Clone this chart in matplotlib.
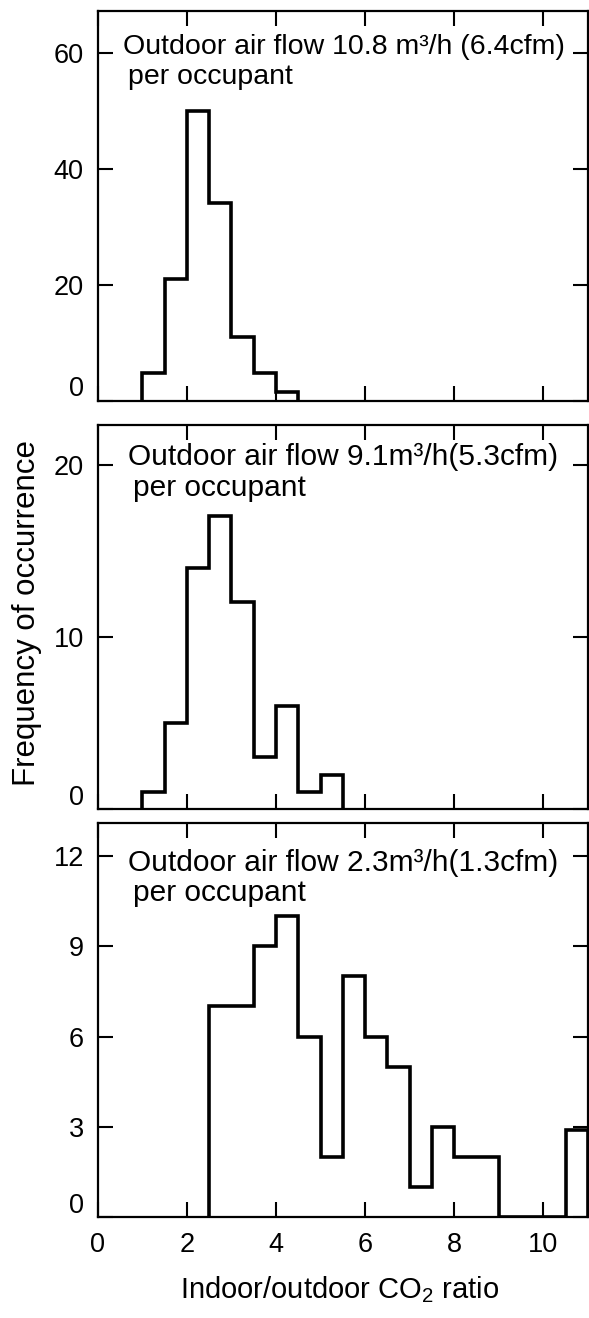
import numpy as np
import matplotlib
matplotlib.use('Agg')
import matplotlib.pyplot as plt

# bin edges (indoor/outdoor CO2 ratio) and frequencies for each ventilation rate
edges_10_8 = [1.0, 1.5, 2.0, 2.5, 3.0, 3.5, 4.0, 4.5]
freq_10_8 = [4.7, 21, 50, 34, 11, 4.7, 1.5]

edges_9_1 = [1.0, 1.5, 2.0, 2.5, 3.0, 3.5, 4.0, 4.5, 5.0, 5.5]
freq_9_1 = [1, 5, 14, 17, 12, 3, 6, 1, 2]

edges_2_3 = [2.5, 3.0, 3.5, 4.0, 4.5, 5.0, 5.5, 6.0, 6.5, 7.0, 7.5, 8.0, 8.5,
             9.0, 9.5, 10.0, 10.5, 11.0]
freq_2_3 = [7, 7, 9, 10, 6, 2, 8, 6, 5, 1, 3, 2, 2, 0, 0, 0, 2.9]

labels = ['Outdoor air flow 10.8 m³/h (6.4cfm)',
          'Outdoor air flow 9.1m³/h(5.3cfm)',
          'Outdoor air flow 2.3m³/h(1.3cfm)']
yticks = [[0, 20, 40, 60], [0, 10, 20], [0, 3, 6, 9, 12]]
ylims = [67.2, 22.3, 13.1]
xticks = [0, 2, 4, 6, 8, 10]

plt.rcParams['font.family'] = ['Liberation Sans', 'DejaVu Sans']
plt.rcParams['mathtext.fontset'] = 'custom'
plt.rcParams['mathtext.rm'] = 'Liberation Sans'

W, H = 589, 1318
fig = plt.figure(figsize=(W / 100, H / 100), dpi=100)

# panel frames in pixels: (top, bottom)
frames = [(11, 400.5), (425, 809), (823, 1217)]
# annotation baselines in pixels: (x, y line 1, y line 2)
notes = [(123, 54, 84), (128, 465, 496), (128, 871, 901)]
note_sizes = [20.5, 21.5, 21.5]
L, R = 97.7, 588

data = [(edges_10_8, freq_10_8), (edges_9_1, freq_9_1), (edges_2_3, freq_2_3)]

for i, ((top, bot), (e, f)) in enumerate(zip(frames, data)):
    ax = fig.add_axes([L / W, 1 - bot / H, (R - L) / W, (bot - top) / H])
    ax.stairs(f, e, baseline=0, color='black', linewidth=2.6)
    ax.set_xlim(0, 11)
    ax.set_ylim(0, ylims[i])
    ax.set_xticks(xticks)
    ax.set_yticks(yticks[i])
    ax.set_yticklabels([''] + [str(v) for v in yticks[i][1:]])
    # zero label sits a bit above the axis line
    ax.annotate('0', xy=(0, 0), xycoords=('axes fraction', 'data'),
                xytext=(-10, 8), textcoords='offset points',
                ha='right', va='center', fontsize=19.5)
    ax.tick_params(direction='in', length=11, width=1.5, top=True, right=True,
                   labelsize=19.5, pad=10)
    if i < 2:
        ax.tick_params(labelbottom=False)
    else:
        ax.tick_params(axis='x', pad=11)
    for s in ax.spines.values():
        s.set_linewidth(1.6)

    x0, y1, y2 = notes[i]
    fig.text(x0 / W, 1 - y1 / H, labels[i], fontsize=note_sizes[i],
             va='baseline', ha='left')
    fig.text((x0 + 5) / W, 1 - y2 / H, 'per occupant', fontsize=note_sizes[i],
             va='baseline', ha='left')

fig.text(27 / W, 1 - 613 / H, 'Frequency of occurrence', rotation=90,
         fontsize=22.5, ha='center', va='center')
fig.text(340 / W, 1 - 1290 / H, 'Indoor/outdoor CO$_2$ ratio',
         fontsize=21, ha='center', va='center')

fig.savefig('out.png', dpi=100)
